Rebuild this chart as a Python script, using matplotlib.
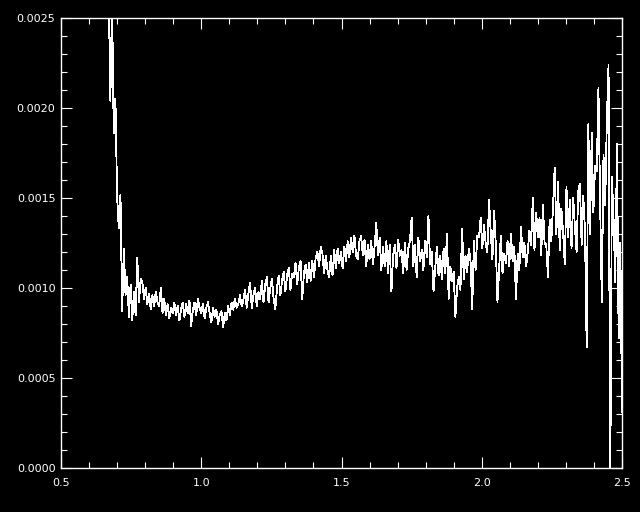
import matplotlib
matplotlib.use('Agg')
import matplotlib.pyplot as plt
from matplotlib.ticker import MultipleLocator, FormatStrFormatter
import numpy as np

# wavelength grid (microns) - uniform sampling
wave_start = 0.670
wave_step = 0.006

# flux values, in units of 1e-4
flux_e4 = [
    26.5, 20.4, 26.0, 18.6, 20.5, 15.1, 13.3, 15.2, 8.7, 12.2,
    9.6, 10.6, 8.4, 10.2, 8.2, 9.8, 8.5, 11.7, 9.2, 10.5,
    10.3, 9.4, 10.0, 9.1, 9.7, 8.8, 9.6, 9.0, 9.8, 9.2,
    9.0, 10.0, 8.6, 9.4, 8.5, 9.1, 8.3, 8.9, 8.6, 9.2,
    8.5, 9.0, 8.2, 8.8, 9.2, 8.4, 9.1, 8.6, 9.3, 7.9,
    8.8, 9.2, 8.5, 9.4, 8.9, 8.6, 9.1, 8.3, 8.9, 9.2,
    8.6, 8.1, 8.9, 8.4, 8.8, 8.0, 8.5, 8.7, 7.8, 8.6,
    8.2, 9.0, 8.5, 9.2, 8.8, 9.4, 8.9, 9.1, 9.6, 9.0,
    9.3, 9.9, 8.9, 9.7, 10.3, 8.9, 9.6, 10.0, 9.0, 9.8,
    9.4, 10.4, 9.2, 10.2, 10.6, 9.2, 10.0, 10.5, 9.4, 8.8,
    10.0, 10.7, 9.6, 10.4, 10.9, 9.8, 10.7, 11.1, 9.9, 10.8,
    10.6, 11.4, 10.2, 11.1, 11.5, 9.4, 10.8, 11.3, 10.3, 11.4,
    10.4, 11.5, 10.6, 11.7, 12.0, 11.2, 12.3, 11.9, 10.8, 11.8,
    11.0, 10.6, 11.8, 10.7, 12.1, 11.1, 12.2, 11.4, 12.0, 11.1,
    12.3, 11.5, 12.6, 11.7, 12.8, 12.0, 12.9, 11.8, 11.6, 12.6,
    12.9, 11.8, 12.7, 11.2, 12.4, 11.6, 12.6, 11.3, 12.3, 13.6,
    11.8, 12.8, 11.0, 12.3, 11.2, 12.6, 10.8, 12.4, 9.8, 11.8,
    12.4, 11.1, 12.7, 11.8, 12.1, 10.8, 12.5, 11.0, 12.2, 12.6,
    13.9, 11.2, 12.4, 10.6, 12.8, 11.5, 12.1, 11.0, 12.6, 11.7,
    14.0, 11.3, 12.0, 9.8, 11.1, 12.3, 10.7, 11.8, 10.5, 12.2,
    10.8, 13.0, 9.4, 11.2, 10.4, 10.9, 8.4, 10.0, 10.6, 9.9,
    13.3, 10.5, 11.8, 10.9, 12.2, 11.5, 8.8, 12.6, 11.0, 12.9,
    12.8, 13.9, 12.2, 13.5, 12.5, 12.0, 14.9, 13.1, 11.6, 14.3,
    12.4, 9.2, 11.0, 12.9, 10.8, 11.9, 11.4, 12.6, 11.2, 13.0,
    11.5, 12.3, 9.4, 11.9, 11.0, 13.4, 11.7, 12.5, 11.2, 12.0,
    13.2, 12.4, 15.0, 12.1, 14.2, 12.8, 13.9, 11.8, 14.6, 12.5,
    12.4, 10.6, 13.8, 12.6, 14.5, 16.7, 13.0, 15.9, 12.1, 14.4,
    13.1, 11.3, 15.6, 12.8, 14.9, 12.2, 15.0, 13.4, 12.0, 15.4,
    15.8, 12.4, 15.1, 13.2, 6.7, 19.1, 13.0, 18.6, 14.2, 16.8,
    16.5, 21.1, 14.8, 9.2, 17.4, 14.6, 19.3, 22.4, -1.5, 16.2,
    13.8, 10.3, 18.0, 7.2, 12.5, 3.1,
]

wave = wave_start + wave_step * np.arange(len(flux_e4))
flux = np.array(flux_e4) * 1e-4

fig = plt.figure(figsize=(6.4, 5.12), dpi=100, facecolor='black')
ax = fig.add_axes([61 / 640, 44 / 512, 561 / 640, 450 / 512], facecolor='black')

ax.plot(wave, flux, color='white', linewidth=0.6, antialiased=False)

ax.set_xlim(0.5, 2.5)
ax.set_ylim(0.0, 0.0025)

ax.xaxis.set_major_locator(MultipleLocator(0.5))
ax.xaxis.set_minor_locator(MultipleLocator(0.1))
ax.yaxis.set_major_locator(MultipleLocator(0.0005))
ax.yaxis.set_minor_locator(MultipleLocator(0.0001))
ax.xaxis.set_major_formatter(FormatStrFormatter('%.1f'))
ax.yaxis.set_major_formatter(FormatStrFormatter('%.4f'))

for side in ax.spines.values():
    side.set_color('white')
    side.set_linewidth(1.0)

ax.tick_params(which='both', direction='in', top=True, right=True,
               colors='white', width=0.8, labelsize=8)
ax.tick_params(which='major', length=8)
ax.tick_params(which='minor', length=4.3)
ax.tick_params(axis='x', which='major', pad=7)
ax.tick_params(axis='y', which='major', pad=4)

fig.savefig('out.png', dpi=100, facecolor='black')
